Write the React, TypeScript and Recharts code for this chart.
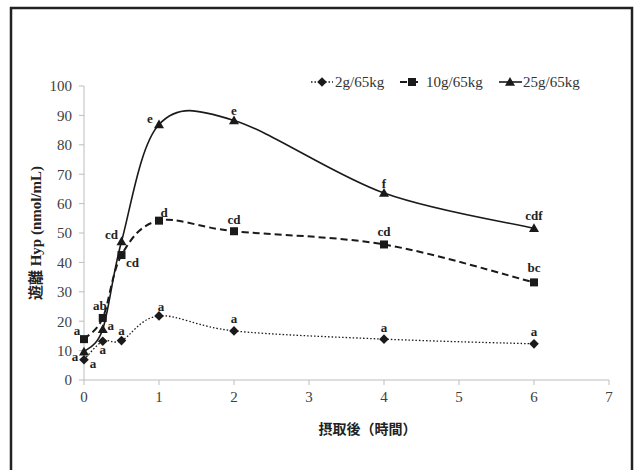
import React from "react";
import { LineChart, Line, XAxis, YAxis, Legend, Label, Customized } from "recharts";

const hours = [0, 0.25, 0.5, 1, 2, 4, 6];
const dose2g = [6.9, 13.2, 13.4, 21.8, 16.7, 13.9, 12.3];
const dose10g = [13.9, 21.1, 42.5, 54.2, 50.6, 46.1, 33.2];
const dose25g = [9.6, 17.3, 47.1, 86.9, 88.3, 63.6, 51.6];
const labels2g = ["a", "a", "a", "a", "a", "a", "a"];
const labels10g = ["a", "ab", "cd", "d", "cd", "cd", "bc"];
const labels25g = ["a", "a", "cd", "e", "e", "f", "cdf"];
const xTicks = [0, 1, 2, 3, 4, 5, 6, 7];
const yTicks = [0, 10, 20, 30, 40, 50, 60, 70, 80, 90, 100];
const seriesNames = ["2g/65kg", "10g/65kg", "25g/65kg"];

const data = hours.map((h, i) => ({
  h,
  s2: dose2g[i],
  s10: dose10g[i],
  s25: dose25g[i],
}));

// label placement (layout only)
const off2 = [[9, 4], [0, 8], [0, -10], [2, -9], [0, -12], [0, -12], [0, -12]];
const off10 = [[-7, -9], [-3, -12], [11, 7], [5, -8], [0, -12], [0, -13], [0, -15]];
const off25 = [[-9, 5], [8, -4], [-10, -7], [-9, -6], [0, -10], [0, -10], [0, -13]];

const INK = "#1a1a1a";
const SERIF = "Liberation Serif, Times New Roman, Noto Sans CJK JP, serif";
const CJK = "Liberation Serif, Noto Sans CJK JP, serif";

// Excel-like smoothing (uniform Catmull-Rom)
const excelCurve: any = (context: any) => {
  let pts: number[][] = [];
  return {
    areaStart() {},
    areaEnd() {},
    lineStart() {
      pts = [];
    },
    point(x: number, y: number) {
      pts.push([+x, +y]);
    },
    lineEnd() {
      const n = pts.length;
      if (!n) return;
      context.moveTo(pts[0][0], pts[0][1]);
      for (let i = 0; i < n - 1; i++) {
        const p0 = pts[Math.max(i - 1, 0)];
        const p1 = pts[i];
        const p2 = pts[i + 1];
        const p3 = pts[Math.min(i + 2, n - 1)];
        context.bezierCurveTo(
          p1[0] + (p2[0] - p0[0]) / 6,
          p1[1] + (p2[1] - p0[1]) / 6,
          p2[0] - (p3[0] - p1[0]) / 6,
          p2[1] - (p3[1] - p1[1]) / 6,
          p2[0],
          p2[1]
        );
      }
    },
  };
};

const Marker = ({ shape, x, y }: { shape: string; x: number; y: number }) => {
  if (shape === "diamond") {
    const r = 4.8;
    return <path d={`M${x},${y - r}L${x + r},${y}L${x},${y + r}L${x - r},${y}Z`} fill={INK} />;
  }
  if (shape === "square") {
    const r = 4;
    return <rect x={x - r} y={y - r} width={2 * r} height={2 * r} fill={INK} />;
  }
  const r = 5;
  return <path d={`M${x},${y - r}L${x + r},${y + r * 0.75}L${x - r},${y + r * 0.75}Z`} fill={INK} />;
};

const makeDot = (shape: string, labels: string[], offs: number[][]) => (props: any) => {
  const { cx, cy, index } = props;
  if (cx == null || cy == null) return <g key={`e-${shape}-${index}`} />;
  const o = offs[index] || [0, -12];
  return (
    <g key={`d-${shape}-${index}`}>
      <Marker shape={shape} x={cx} y={cy} />
      <text
        x={cx + o[0]}
        y={cy + o[1]}
        textAnchor="middle"
        dominantBaseline="central"
        fontFamily={SERIF}
        fontWeight="bold"
        fontSize={13}
        fill="#222"
      >
        {labels[index]}
      </text>
    </g>
  );
};

const LegendContent = () => {
  const items = [
    { name: seriesNames[0], shape: "diamond", dash: "1.5 2", w: 1.3, x1: 311, x2: 333, mx: 322, tx: 335 },
    { name: seriesNames[1], shape: "square", dash: "7 4", w: 2, x1: 400, x2: 420, mx: 412, tx: 426 },
    { name: seriesNames[2], shape: "triangle", dash: undefined, w: 1.6, x1: 499, x2: 522, mx: 510, tx: 523 },
  ];
  return (
    <svg width={638} height={30} style={{ display: "block" }}>
      {items.map((it) => (
        <g key={it.name}>
          <line x1={it.x1} x2={it.x2} y1={15} y2={15} stroke={INK} strokeWidth={it.w} strokeDasharray={it.dash} />
          <Marker shape={it.shape} x={it.mx} y={15} />
          <text x={it.tx} y={15} dominantBaseline="central" fontFamily={SERIF} fontSize={15} fill="#333">
            {it.name}
          </text>
        </g>
      ))}
    </svg>
  );
};

const Frame = () => (
  <rect x={11} y={8} width={621} height={480} fill="none" stroke="#222" strokeWidth={2.5} />
);

export default function App() {
  return (
    <div style={{ width: 638, height: 470, background: "#fff" }}>
      <style>{`body{margin:0;background:#fff}`}</style>
      <LineChart width={638} height={470} data={data} margin={{ top: 56, right: 29, bottom: 0, left: 0 }}>
        <Customized component={Frame} />
        <XAxis
          dataKey="h"
          type="number"
          domain={[0, 7]}
          ticks={xTicks}
          interval={0}
          height={90}
          stroke="#bdbdbd"
          tickSize={5}
          tickMargin={6}
          tick={{ fill: "#404040", fontFamily: SERIF, fontSize: 15 }}
        >
          <Label
            value="摂取後（時間）"
            position="insideTop"
            dx={21}
            offset={44}
            style={{ fill: "#222", fontFamily: CJK, fontWeight: "bold", fontSize: 14 }}
          />
        </XAxis>
        <YAxis
          type="number"
          domain={[0, 100]}
          ticks={yTicks}
          interval={0}
          width={84}
          stroke="#bdbdbd"
          tickSize={5}
          tickMargin={7}
          tick={{ fill: "#404040", fontFamily: SERIF, fontSize: 15 }}
        >
          <Label
            value="遊離 Hyp (nmol/mL)"
            angle={-90}
            position="insideLeft"
            offset={36}
            style={{ textAnchor: "middle", fill: "#222", fontFamily: CJK, fontWeight: "bold", fontSize: 15 }}
          />
        </YAxis>
        <Legend verticalAlign="top" content={LegendContent} wrapperStyle={{ top: 67, left: 0, width: 638 }} />
        <Line
          dataKey="s2"
          name={seriesNames[0]}
          type={excelCurve}
          stroke={INK}
          strokeWidth={1.3}
          strokeDasharray="1.5 2"
          dot={makeDot("diamond", labels2g, off2)}
          activeDot={false}
          isAnimationActive={false}
        />
        <Line
          dataKey="s10"
          name={seriesNames[1]}
          type={excelCurve}
          stroke={INK}
          strokeWidth={2}
          strokeDasharray="7 4"
          dot={makeDot("square", labels10g, off10)}
          activeDot={false}
          isAnimationActive={false}
        />
        <Line
          dataKey="s25"
          name={seriesNames[2]}
          type={excelCurve}
          stroke={INK}
          strokeWidth={1.6}
          dot={makeDot("triangle", labels25g, off25)}
          activeDot={false}
          isAnimationActive={false}
        />
      </LineChart>
    </div>
  );
}
